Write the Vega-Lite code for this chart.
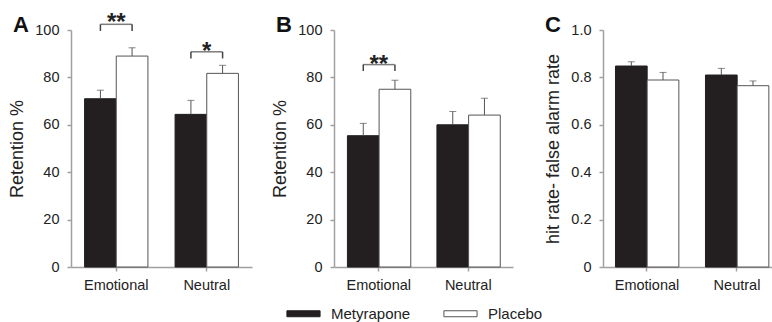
{
  "$schema": "https://vega.github.io/schema/vega-lite/v6.json",
  "padding": {"left": 8, "top": 11, "right": 0, "bottom": 0},
  "background": "white",
  "config": {
    "font": "Liberation Sans",
    "view": {"stroke": null},
    "axis": {"domainColor": "#a0a0a0", "domainWidth": 1.5, "tickColor": "#a0a0a0", "tickWidth": 1.5, "tickSize": 4, "labelFont": "Liberation Sans", "labelFontSize": 14.5, "labelColor": "#222", "titleFont": "Liberation Sans", "titleFontSize": 18, "titleFontWeight": "normal", "titleColor": "#222", "grid": false},
    "axisX": {"labelAngle": 0, "labelPadding": 7},
    "axisY": {"labelPadding": 8, "titlePadding": 8},
    "title": {"font": "Liberation Sans", "fontSize": 22, "fontWeight": "bold", "color": "#111", "anchor": "start", "frame": "group", "baseline": "alphabetic", "offset": 0, "dx": -58, "dy": 30},
    "legend": {"orient": "none", "legendX": 215, "legendY": 266, "direction": "horizontal", "symbolType": "M-1,-0.18H1V0.18H-1Z", "symbolSize": 1100, "symbolStrokeColor": "#333", "symbolStrokeWidth": 1, "labelFont": "Liberation Sans", "labelFontSize": 15, "labelColor": "#222", "labelOffset": 10, "columnPadding": 30}
  },
  "datasets": {
    "bars": [
      {"panel": "A", "group": "Emotional", "cond": "Metyrapone", "value": 71.0, "err": 74.6},
      {"panel": "A", "group": "Emotional", "cond": "Placebo", "value": 89.0, "err": 92.5},
      {"panel": "A", "group": "Neutral", "cond": "Metyrapone", "value": 64.4, "err": 70.3},
      {"panel": "A", "group": "Neutral", "cond": "Placebo", "value": 81.7, "err": 85.1},
      {"panel": "B", "group": "Emotional", "cond": "Metyrapone", "value": 55.4, "err": 60.6},
      {"panel": "B", "group": "Emotional", "cond": "Placebo", "value": 75.0, "err": 78.8},
      {"panel": "B", "group": "Neutral", "cond": "Metyrapone", "value": 60.0, "err": 65.6},
      {"panel": "B", "group": "Neutral", "cond": "Placebo", "value": 64.1, "err": 71.2},
      {"panel": "C", "group": "Emotional", "cond": "Metyrapone", "value": 0.848, "err": 0.866},
      {"panel": "C", "group": "Emotional", "cond": "Placebo", "value": 0.789, "err": 0.821},
      {"panel": "C", "group": "Neutral", "cond": "Metyrapone", "value": 0.810, "err": 0.838},
      {"panel": "C", "group": "Neutral", "cond": "Placebo", "value": 0.765, "err": 0.785}
    ],
    "brackets": [
      {"panel": "A", "group": "Emotional", "cond": "Metyrapone", "by": 102.4, "bd": 99.6, "ly": 99.9, "label": "**"},
      {"panel": "A", "group": "Emotional", "cond": "Placebo", "by": 102.4, "bd": 99.6, "ly": 99.9, "label": "**"},
      {"panel": "A", "group": "Neutral", "cond": "Metyrapone", "by": 90.8, "bd": 88.0, "ly": 87.9, "label": "*"},
      {"panel": "A", "group": "Neutral", "cond": "Placebo", "by": 90.8, "bd": 88.0, "ly": 87.9, "label": "*"},
      {"panel": "B", "group": "Emotional", "cond": "Metyrapone", "by": 85.4, "bd": 82.7, "ly": 82.3, "label": "**"},
      {"panel": "B", "group": "Emotional", "cond": "Placebo", "by": 85.4, "bd": 82.7, "ly": 82.3, "label": "**"}
    ]
  },
  "spacing": 82,
  "bounds": "flush",
  "hconcat": [
    {
      "width": 181, "height": 237,
      "title": {"text": "A"},
      "layer": [
        {
          "data": {"name": "bars"},
          "transform": [{"filter": "datum.panel == 'A'"}],
          "mark": {"type": "bar", "strokeWidth": 1},
          "encoding": {
            "x": {"field": "group", "type": "nominal", "scale": {"domain": ["Emotional", "Neutral"], "paddingInner": 0.3, "paddingOuter": 0.15}, "axis": {"title": null}},
            "xOffset": {"field": "cond", "type": "nominal", "scale": {"domain": ["Metyrapone", "Placebo"]}},
            "y": {"field": "value", "type": "quantitative", "scale": {"domain": [0, 100], "nice": false}, "axis": {"title": "Retention %", "values": [0, 20, 40, 60, 80, 100]}},
            "color": {"field": "cond", "type": "nominal", "scale": {"domain": ["Metyrapone", "Placebo"], "range": ["#231f20", "#ffffff"]}, "legend": {"title": null}},
            "stroke": {"field": "cond", "type": "nominal", "scale": {"domain": ["Metyrapone", "Placebo"], "range": ["#231f20", "#555555"]}, "legend": null}
          }
        },
        {
          "data": {"name": "bars"},
          "transform": [{"filter": "datum.panel == 'A'"}],
          "mark": {"type": "rule", "color": "#555", "strokeWidth": 1},
          "encoding": {
            "x": {"field": "group", "type": "nominal"},
            "xOffset": {"field": "cond", "type": "nominal"},
            "y": {"field": "value", "type": "quantitative"},
            "y2": {"field": "err"}
          }
        },
        {
          "data": {"name": "bars"},
          "transform": [{"filter": "datum.panel == 'A'"}],
          "mark": {"type": "tick", "orient": "horizontal", "size": 7, "thickness": 1, "color": "#555"},
          "encoding": {
            "x": {"field": "group", "type": "nominal"},
            "xOffset": {"field": "cond", "type": "nominal"},
            "y": {"field": "err", "type": "quantitative"}
          }
        },
        {
          "data": {"name": "brackets"},
          "transform": [{"filter": "datum.panel == 'A'"}],
          "mark": {"type": "rule", "color": "#444", "strokeWidth": 1.5},
          "encoding": {
            "x": {"field": "group", "type": "nominal"},
            "xOffset": {"field": "cond", "type": "nominal"},
            "y": {"field": "by", "type": "quantitative"},
            "y2": {"field": "bd"}
          }
        },
        {
          "data": {"name": "brackets"},
          "transform": [{"filter": "datum.panel == 'A' && datum.cond == 'Metyrapone'"}],
          "mark": {"type": "tick", "orient": "horizontal", "size": 31.5, "thickness": 1.5, "color": "#444"},
          "encoding": {
            "x": {"field": "group", "type": "nominal"},
            "y": {"field": "by", "type": "quantitative"}
          }
        },
        {
          "data": {"name": "brackets"},
          "transform": [{"filter": "datum.panel == 'A' && datum.cond == 'Metyrapone'"}],
          "mark": {"type": "text", "fontSize": 24, "fontWeight": "bold", "color": "#222", "baseline": "alphabetic", "align": "center"},
          "encoding": {
            "x": {"field": "group", "type": "nominal"},
            "y": {"field": "ly", "type": "quantitative"},
            "text": {"field": "label"}
          }
        }
      ]
    },
    {
      "spacing": 90,
      "bounds": "flush",
      "hconcat": [
        {
          "width": 179, "height": 237,
          "title": {"text": "B", "dy": 19},
          "layer": [
            {
              "data": {"name": "bars"},
              "transform": [{"filter": "datum.panel == 'B'"}],
              "mark": {"type": "bar", "strokeWidth": 1},
              "encoding": {
                "x": {"field": "group", "type": "nominal", "scale": {"domain": ["Emotional", "Neutral"], "paddingInner": 0.3, "paddingOuter": 0.15}, "axis": {"title": null}},
                "xOffset": {"field": "cond", "type": "nominal", "scale": {"domain": ["Metyrapone", "Placebo"]}},
                "y": {"field": "value", "type": "quantitative", "scale": {"domain": [0, 100], "nice": false}, "axis": {"title": "Retention %", "values": [0, 20, 40, 60, 80, 100]}},
                "color": {"field": "cond", "type": "nominal", "scale": {"domain": ["Metyrapone", "Placebo"], "range": ["#231f20", "#ffffff"]}, "legend": {"title": null}},
                "stroke": {"field": "cond", "type": "nominal", "scale": {"domain": ["Metyrapone", "Placebo"], "range": ["#231f20", "#555555"]}, "legend": null}
              }
            },
            {
              "data": {"name": "bars"},
              "transform": [{"filter": "datum.panel == 'B'"}],
              "mark": {"type": "rule", "color": "#555", "strokeWidth": 1},
              "encoding": {
                "x": {"field": "group", "type": "nominal"},
                "xOffset": {"field": "cond", "type": "nominal"},
                "y": {"field": "value", "type": "quantitative"},
                "y2": {"field": "err"}
              }
            },
            {
              "data": {"name": "bars"},
              "transform": [{"filter": "datum.panel == 'B'"}],
              "mark": {"type": "tick", "orient": "horizontal", "size": 7, "thickness": 1, "color": "#555"},
              "encoding": {
                "x": {"field": "group", "type": "nominal"},
                "xOffset": {"field": "cond", "type": "nominal"},
                "y": {"field": "err", "type": "quantitative"}
              }
            },
            {
              "data": {"name": "brackets"},
              "transform": [{"filter": "datum.panel == 'B'"}],
              "mark": {"type": "rule", "color": "#444", "strokeWidth": 1.5},
              "encoding": {
                "x": {"field": "group", "type": "nominal"},
                "xOffset": {"field": "cond", "type": "nominal"},
                "y": {"field": "by", "type": "quantitative"},
                "y2": {"field": "bd"}
              }
            },
            {
              "data": {"name": "brackets"},
              "transform": [{"filter": "datum.panel == 'B' && datum.cond == 'Metyrapone'"}],
              "mark": {"type": "tick", "orient": "horizontal", "size": 31.5, "thickness": 1.5, "color": "#444"},
              "encoding": {
                "x": {"field": "group", "type": "nominal"},
                "y": {"field": "by", "type": "quantitative"}
              }
            },
            {
              "data": {"name": "brackets"},
              "transform": [{"filter": "datum.panel == 'B' && datum.cond == 'Metyrapone'"}],
              "mark": {"type": "text", "fontSize": 24, "fontWeight": "bold", "color": "#222", "baseline": "alphabetic", "align": "center"},
              "encoding": {
                "x": {"field": "group", "type": "nominal"},
                "y": {"field": "ly", "type": "quantitative"},
                "text": {"field": "label"}
              }
            }
          ]
        },
        {
          "width": 169, "height": 237,
          "title": {"text": "C", "dy": 19},
          "layer": [
            {
              "data": {"name": "bars"},
              "transform": [{"filter": "datum.panel == 'C'"}],
              "mark": {"type": "bar", "strokeWidth": 1},
              "encoding": {
                "x": {"field": "group", "type": "nominal", "scale": {"domain": ["Emotional", "Neutral"], "paddingInner": 0.3, "paddingOuter": 0.089, "align": 0.78}, "axis": {"title": null}},
                "xOffset": {"field": "cond", "type": "nominal", "scale": {"domain": ["Metyrapone", "Placebo"]}},
                "y": {"field": "value", "type": "quantitative", "scale": {"domain": [0, 1], "nice": false}, "axis": {"title": "hit rate- false alarm rate", "values": [0, 0.2, 0.4, 0.6, 0.8, 1], "labelExpr": "datum.value == 0 ? '0' : format(datum.value, '.1f')"}},
                "color": {"field": "cond", "type": "nominal", "scale": {"domain": ["Metyrapone", "Placebo"], "range": ["#231f20", "#ffffff"]}, "legend": {"title": null}},
                "stroke": {"field": "cond", "type": "nominal", "scale": {"domain": ["Metyrapone", "Placebo"], "range": ["#231f20", "#555555"]}, "legend": null}
              }
            },
            {
              "data": {"name": "bars"},
              "transform": [{"filter": "datum.panel == 'C'"}],
              "mark": {"type": "rule", "color": "#555", "strokeWidth": 1},
              "encoding": {
                "x": {"field": "group", "type": "nominal"},
                "xOffset": {"field": "cond", "type": "nominal"},
                "y": {"field": "value", "type": "quantitative"},
                "y2": {"field": "err"}
              }
            },
            {
              "data": {"name": "bars"},
              "transform": [{"filter": "datum.panel == 'C'"}],
              "mark": {"type": "tick", "orient": "horizontal", "size": 7, "thickness": 1, "color": "#555"},
              "encoding": {
                "x": {"field": "group", "type": "nominal"},
                "xOffset": {"field": "cond", "type": "nominal"},
                "y": {"field": "err", "type": "quantitative"}
              }
            }
          ]
        }
      ]
    }
  ]
}
